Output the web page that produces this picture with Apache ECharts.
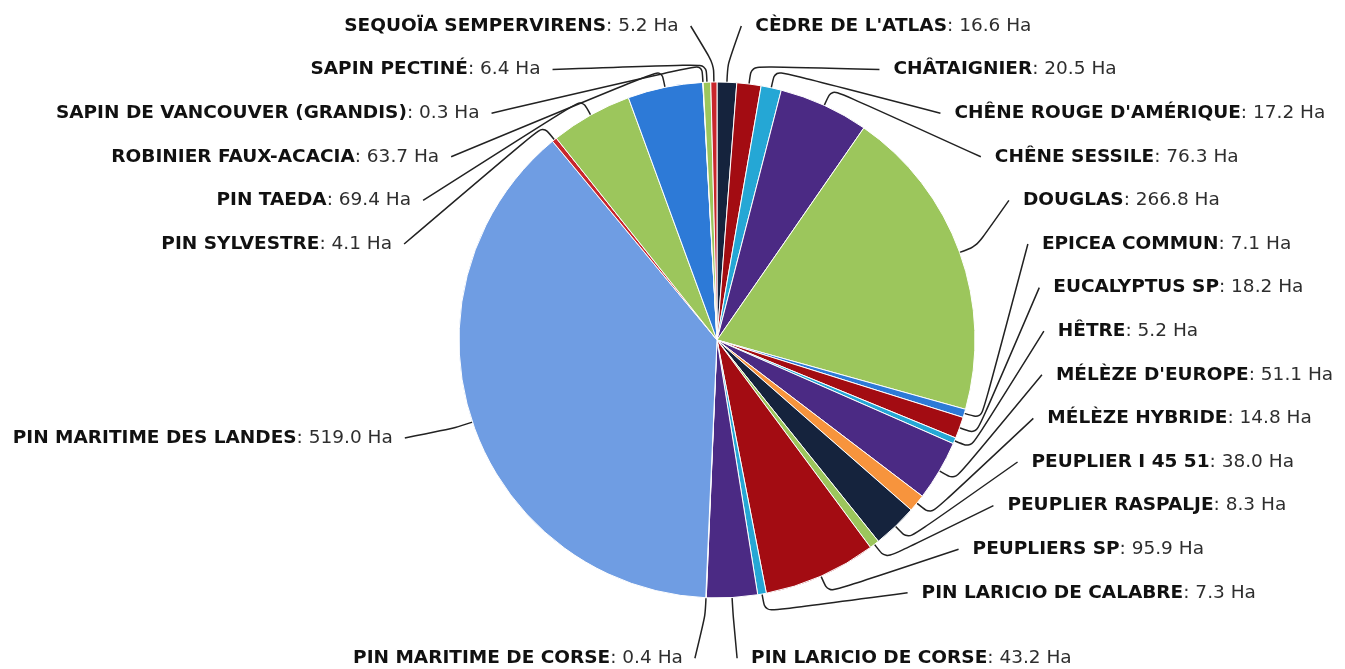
<!DOCTYPE html>
<html>
<head>
<meta charset="utf-8">
<script src="https://cdn.jsdelivr.net/npm/echarts@6/dist/echarts.min.js"></script>
<style>
html, body { margin: 0; padding: 0; background: #fff; }
#chart { width: 1345px; height: 669px; }
</style>
</head>
<body>
<div id="chart"></div>
<script>
// essences (ordre alphabétique, sens horaire depuis midi)
var essences = [
    "CÈDRE DE L'ATLAS", 'CHÂTAIGNIER', "CHÊNE ROUGE D'AMÉRIQUE", 'CHÊNE SESSILE',
    'DOUGLAS', 'EPICEA COMMUN', 'EUCALYPTUS SP', 'HÊTRE', "MÉLÈZE D'EUROPE",
    'MÉLÈZE HYBRIDE', 'PEUPLIER I 45 51', 'PEUPLIER RASPALJE', 'PEUPLIERS SP',
    'PIN LARICIO DE CALABRE', 'PIN LARICIO DE CORSE', 'PIN MARITIME DE CORSE',
    'PIN MARITIME DES LANDES', 'PIN SYLVESTRE', 'PIN TAEDA', 'ROBINIER FAUX-ACACIA',
    'SAPIN DE VANCOUVER (GRANDIS)', 'SAPIN PECTINÉ', 'SEQUOÏA SEMPERVIRENS'
];
// surfaces en hectares
var surfaces = [
    16.6, 20.5, 17.2, 76.3,
    266.8, 7.1, 18.2, 5.2, 51.1,
    14.8, 38.0, 8.3, 95.9,
    7.3, 43.2, 0.4,
    519.0, 4.1, 69.4, 63.7,
    0.3, 6.4, 5.2
];
var couleurs = [
    '#15233d', '#a30c12', '#25a7d5', '#4b2a84',
    '#9cc65c', '#2d7ad7', '#a30c12', '#25a7d5', '#4b2a84',
    '#f7943d', '#15233d', '#9cc65c', '#a30c12',
    '#25a7d5', '#4b2a84', '#f7943d',
    '#6f9de3', '#c8262c', '#9cc65c', '#2d7ad7',
    '#f7943d', '#9cc65c', '#c8262c'
];

var CX = 717, CY = 340, R = 258;
var ELL_A = 341, ELL_B = 316; // ellipse des étiquettes
var ROW_TOP = 26, ROW_STEP = 43.6;

var total = 0;
surfaces.forEach(function (v) { total += v; });
var midAngles = []; // radians, sens horaire depuis midi
(function () {
    var acc = 0;
    surfaces.forEach(function (v) {
        midAngles.push((acc + v / 2) / total * Math.PI * 2);
        acc += v;
    });
})();

function labelRow(i) {
    var a = midAngles[i];
    var right = a < Math.PI;
    var y;
    if (right) {
        y = i < 14 ? ROW_TOP + ROW_STEP * i : ROW_TOP + ROW_STEP * 14.5;
    } else if (i === 15) {
        y = ROW_TOP + ROW_STEP * 14.5;
    } else if (i === 16) {
        y = CY - (R + 50) * Math.cos(a);
    } else {
        y = ROW_TOP + ROW_STEP * (essences.length - 1 - i);
    }
    var t = (y - CY) / ELL_B;
    var ex = ELL_A * Math.sqrt(Math.max(0.01, 1 - t * t));
    return {right: right, y: y, x: right ? CX + ex : CX - ex};
}

var chart = echarts.init(document.getElementById('chart'));
chart.setOption({
    backgroundColor: '#fff',
    animation: false,
    series: [{
        type: 'pie',
        center: [CX, CY],
        radius: R,
        startAngle: 90,
        clockwise: true,
        avoidLabelOverlap: false,
        minShowLabelAngle: 0,
        itemStyle: {borderColor: '#fff', borderWidth: 1},
        emphasis: {disabled: true},
        data: essences.map(function (n, i) {
            return {name: n, value: surfaces[i], itemStyle: {color: couleurs[i]}};
        }),
        label: {
            show: true,
            position: 'outside',
            formatter: function (p) {
                return '{n|' + p.name + '}{v|: ' + p.value.toFixed(1) + ' Ha}';
            },
            rich: {
                n: {fontFamily: 'DejaVu Sans', fontWeight: 'bold', fontSize: 18.5, color: '#111'},
                v: {fontFamily: 'DejaVu Sans', fontSize: 18.5, color: '#2e2e2e'}
            }
        },
        labelLine: {
            show: true,
            length: 18,
            length2: 10,
            smooth: 0.3,
            lineStyle: {color: '#222', width: 1.5}
        },
        labelLayout: function (params) {
            var i = params.dataIndex;
            var pos = labelRow(i);
            var a = midAngles[i];
            var p0 = [CX + R * Math.sin(a), CY - R * Math.cos(a)];
            var p1 = [CX + (R + 18) * Math.sin(a), CY - (R + 18) * Math.cos(a)];
            var p2 = [pos.right ? pos.x - 14 : pos.x + 12, pos.y];
            return {
                x: pos.x,
                y: pos.y,
                align: pos.right ? 'left' : 'right',
                verticalAlign: 'middle',
                labelLinePoints: [p0, p1, p2]
            };
        }
    }]
});
</script>
</body>
</html>
